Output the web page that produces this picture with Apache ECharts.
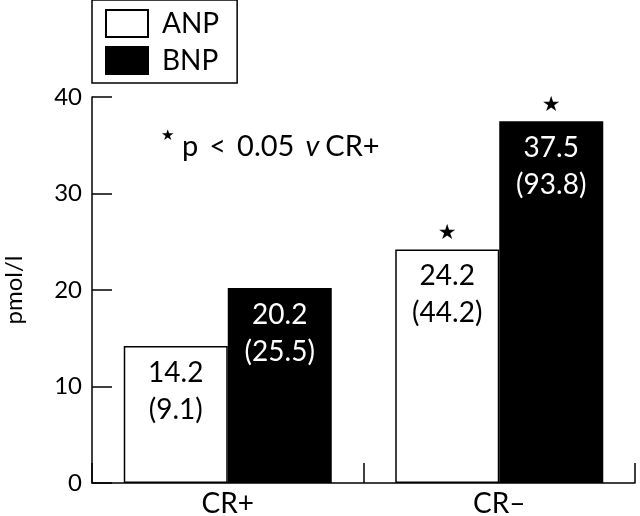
<!DOCTYPE html>
<html>
<head>
<meta charset="utf-8">
<script src="https://cdn.jsdelivr.net/npm/echarts@6/dist/echarts.min.js"></script>
<style>html,body{margin:0;padding:0;background:#fff;}#c{width:640px;height:516px;}</style>
</head>
<body>
<div id="c"></div>
<script>
var categories = ['CR+', 'CR\u2013'];
var anpValues = [14.2, 24.2];
var bnpValues = [20.2, 37.5];
var anpParen = ['9.1', '44.2'];
var bnpParen = ['25.5', '93.8'];
var anpStar = [false, true];
var bnpStar = [false, true];
var yTicks = [0, 10, 20, 30, 40];

var FONT = 'Lato';
var chart = echarts.init(document.getElementById('c'));

function valueLabel(paren) {
  return function (p) { return p.value + '\n(' + paren[p.dataIndex] + ')'; };
}
function starLabel(flags) {
  return function (p) { return flags[p.dataIndex] ? '\u2605' : ''; };
}

var xAxisCommon = {
  type: 'category',
  data: categories,
  boundaryGap: true
};

chart.setOption({
  animation: false,
  backgroundColor: '#fff',
  grid: { left: 92, right: 5, top: 97, bottom: 33, containLabel: false, outerBoundsMode: 'none' },
  legend: {
    orient: 'vertical',
    left: 92, top: 0,
    padding: [9, 18, 8, 13],
    itemGap: 8,
    itemWidth: 42, itemHeight: 27,
    icon: 'rect',
    borderColor: '#000', borderWidth: 1.5,
    textStyle: { fontFamily: FONT, fontSize: 28, color: '#000', padding: [0, 0, 0, 9] },
    data: ['ANP', 'BNP']
  },
  xAxis: [
    Object.assign({}, xAxisCommon, {
      axisLine: { lineStyle: { color: '#000', width: 1.5 } },
      axisTick: { show: true, inside: true, length: 20, lineStyle: { color: '#000', width: 1.5 } },
      axisLabel: { fontFamily: FONT, fontSize: 28, color: '#000', margin: 7 }
    }),
    Object.assign({}, xAxisCommon, { show: false })
  ],
  yAxis: {
    type: 'value', min: 0, max: 40, interval: 10,
    name: 'pmol/l', nameLocation: 'middle', nameGap: 66,
    nameTextStyle: { fontFamily: FONT, fontSize: 24, color: '#000' },
    axisLine: { show: true, lineStyle: { color: '#000', width: 1.5 } },
    axisTick: { show: true, inside: true, length: 20, lineStyle: { color: '#000', width: 1.5 } },
    axisLabel: {
      fontFamily: FONT, fontSize: 24, color: '#000', margin: 10,
      formatter: function (v) { return yTicks.indexOf(v) >= 0 ? String(v) : ''; }
    },
    splitLine: { show: false }
  },
  series: [
    {
      name: 'ANP', type: 'bar', xAxisIndex: 0, data: anpValues,
      barWidth: 104, barGap: '0%',
      itemStyle: { color: '#fff', borderColor: '#000', borderWidth: 1.5 },
      label: {
        show: true, position: 'insideTop', distance: 8,
        fontFamily: FONT, fontSize: 28, lineHeight: 37, color: '#000',
        formatter: valueLabel(anpParen)
      }
    },
    {
      name: 'BNP', type: 'bar', xAxisIndex: 0, data: bnpValues,
      barWidth: 104, barGap: '0%',
      itemStyle: { color: '#000', borderColor: '#000', borderWidth: 1.5 },
      label: {
        show: true, position: 'insideTop', distance: 8,
        fontFamily: FONT, fontSize: 28, lineHeight: 37, color: '#fff',
        formatter: valueLabel(bnpParen)
      }
    },
    {
      name: 'ANPstar', type: 'bar', xAxisIndex: 1, data: anpValues,
      barWidth: 104, barGap: '0%', silent: true,
      itemStyle: { color: 'rgba(0,0,0,0)' },
      label: {
        show: true, position: 'top', distance: 5,
        fontFamily: 'DejaVu Sans', fontSize: 21, color: '#000',
        formatter: starLabel(anpStar)
      }
    },
    {
      name: 'BNPstar', type: 'bar', xAxisIndex: 1, data: bnpValues,
      barWidth: 104, barGap: '0%', silent: true,
      itemStyle: { color: 'rgba(0,0,0,0)' },
      label: {
        show: true, position: 'top', distance: 5,
        fontFamily: 'DejaVu Sans', fontSize: 21, color: '#000',
        formatter: starLabel(bnpStar)
      }
    }
  ],
  graphic: [
    {
      type: 'text', left: 161, top: 129,
      style: { text: '\u2605', font: '15px "DejaVu Sans"', fill: '#000' }
    },
    {
      type: 'text', left: 182, top: 132,
      style: {
        text: '{t|p}{g|}{t|<}{g|}{t|0.05}{g|}{i|v}{h|}{t|CR+}',
        fill: '#000',
        rich: {
          t: { fontFamily: FONT, fontSize: 29, color: '#000' },
          i: { fontFamily: FONT, fontSize: 29, fontStyle: 'italic', color: '#000' },
          g: { width: 11 },
          h: { width: 6 }
        }
      }
    }
  ]
});
</script>
</body>
</html>
